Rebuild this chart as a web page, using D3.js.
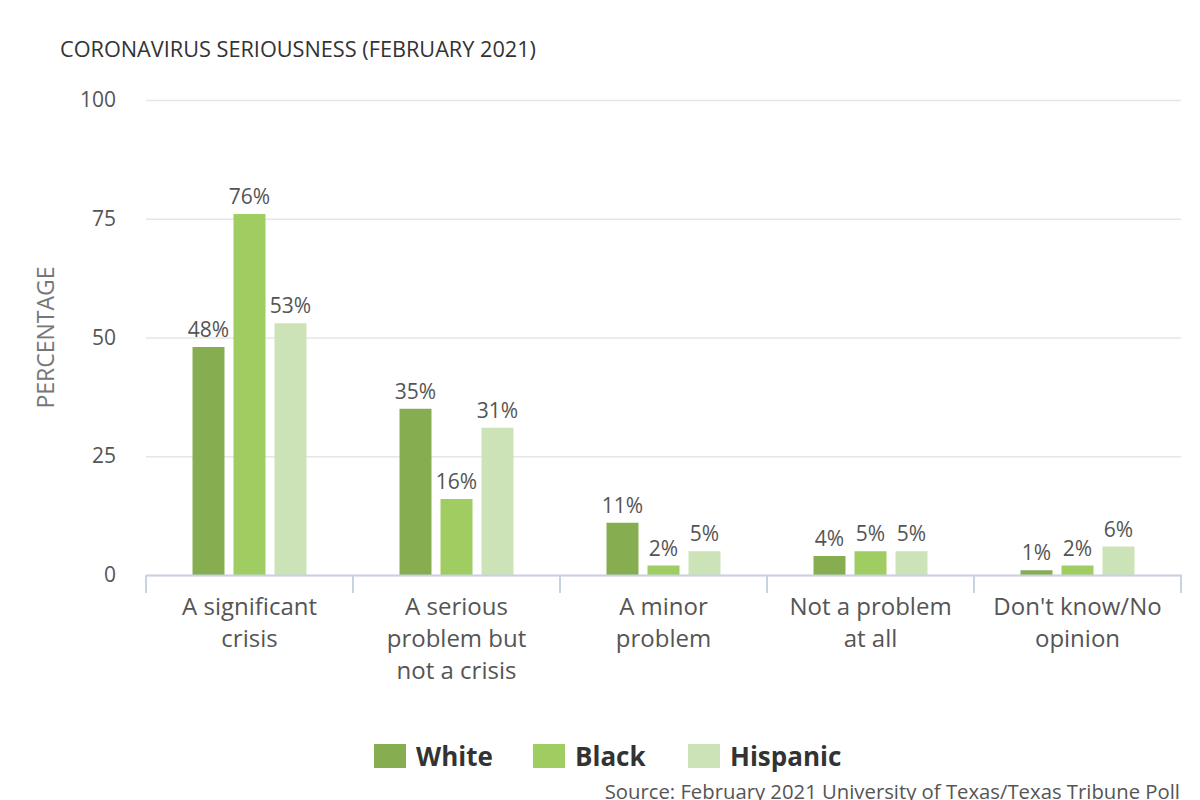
<!DOCTYPE html>
<html>
<head>
<meta charset="utf-8">
<script src="https://cdn.jsdelivr.net/npm/d3@7"></script>
<style>
  body { margin: 0; background: #fff; }
  svg { font-family: 'Open Sans', sans-serif; display: block; }
</style>
</head>
<body>
<div class="chart-container"></div>
<script>
var categories = ['A significant crisis', 'A serious problem but not a crisis', 'A minor problem', 'Not a problem at all', "Don't know/No opinion"];
var groups = ['White', 'Black', 'Hispanic'];
var white = [48, 35, 11, 4, 1];
var black = [76, 16, 2, 5, 2];
var hispanic = [53, 31, 5, 5, 6];
var yTicks = [0, 25, 50, 75, 100];
var colors = ['#87ad51', '#9fcd61', '#cce3b8'];

var totalWidth = 1200;
var totalHeight = 800;
var margin = { top: 100, right: 19, bottom: 225, left: 146 };
var width = totalWidth - margin.left - margin.right;
var height = totalHeight - margin.top - margin.bottom;

var series = [white, black, hispanic];
var rows = categories.map((c, i) => ({
  category: c,
  values: groups.map((g, j) => ({ group: g, value: series[j][i], color: colors[j] }))
}));

var svg = d3.select('.chart-container').append('svg')
  .attr('width', totalWidth)
  .attr('height', totalHeight);

var x0 = d3.scaleBand()
  .domain(categories)
  .range([0, width]);

var x1 = d3.scaleBand()
  .domain(groups)
  .range([46.5, x0.bandwidth() - 46.5])
  .paddingInner(0.22);

var y = d3.scaleLinear()
  .domain([0, 100])
  .range([height, 0]);

var chart = svg.append('g')
  .attr('transform', `translate(${margin.left}, ${margin.top})`);

// gridlines + y labels
var gY = chart.append('g')
  .call(d3.axisLeft(y).tickValues(yTicks).tickSize(-width).tickPadding(30));
gY.select('.domain').remove();
gY.selectAll('.tick line').attr('stroke', '#e6e6e6').attr('stroke-width', 1.5);
gY.selectAll('.tick text')
  .attr('fill', '#555')
  .style('font-size', '21px')
  .style('font-family', 'Open Sans, sans-serif');

// bars
var cat = chart.selectAll('.cat')
  .data(rows).enter()
  .append('g')
    .attr('class', 'cat')
    .attr('transform', d => `translate(${x0(d.category)}, 0)`);

cat.selectAll('rect')
  .data(d => d.values).enter()
  .append('rect')
    .attr('x', d => x1(d.group))
    .attr('y', d => y(d.value))
    .attr('width', x1.bandwidth())
    .attr('height', d => height - y(d.value))
    .attr('fill', d => d.color);

cat.selectAll('text.val')
  .data(d => d.values).enter()
  .append('text')
    .attr('class', 'val')
    .attr('x', d => x1(d.group) + x1.bandwidth() / 2)
    .attr('y', d => y(d.value) - 10)
    .attr('text-anchor', 'middle')
    .attr('fill', '#555')
    .style('font-size', '21px')
    .text(d => d.value + '%');

// x axis
var gX = chart.append('g')
  .attr('transform', `translate(0, ${height})`)
  .call(d3.axisBottom(x0).tickSize(0).tickPadding(0));
gX.select('.domain').attr('stroke', '#c8d2e2').attr('stroke-width', 2);
gX.selectAll('.tick text')
  .attr('fill', '#555')
  .style('font-size', '24px')
  .style('font-family', 'Open Sans, sans-serif')
  .attr('y', 0)
  .attr('dy', 0)
  .call(wrap, 180);

var bounds = categories.map(c => x0(c)).concat([width]);
chart.append('g').selectAll('line')
  .data(bounds).enter()
  .append('line')
    .attr('x1', d => d).attr('x2', d => d)
    .attr('y1', height).attr('y2', height + 18)
    .attr('stroke', '#c8d2e2')
    .attr('stroke-width', 2);

function wrap(texts, maxWidth) {
  texts.each(function () {
    var text = d3.select(this);
    var words = text.text().split(/\s+/);
    var line = [];
    var lineNo = 0;
    text.text(null);
    var tspan = text.append('tspan').attr('x', 0).attr('y', 40);
    words.forEach(w => {
      line.push(w);
      tspan.text(line.join(' '));
      if (tspan.node().getComputedTextLength() > maxWidth && line.length > 1) {
        line.pop();
        tspan.text(line.join(' '));
        line = [w];
        lineNo++;
        tspan = text.append('tspan').attr('x', 0).attr('y', 40 + lineNo * 32).text(w);
      }
    });
  });
}

// title
svg.append('text')
  .attr('x', 60)
  .attr('y', 57)
  .attr('fill', '#333')
  .style('font-size', '21.7px')
  .text('CORONAVIRUS SERIOUSNESS (FEBRUARY 2021)');

// y axis title
svg.append('text')
  .attr('transform', `translate(54, ${margin.top + height / 2}) rotate(-90)`)
  .attr('text-anchor', 'middle')
  .attr('fill', '#777')
  .style('font-size', '23px')
  .text('PERCENTAGE');

// legend
var legendX = [374, 533, 688];
var legend = svg.append('g').selectAll('g')
  .data(groups).enter()
  .append('g')
    .attr('transform', (d, i) => `translate(${legendX[i]}, 744)`);
legend.append('rect')
  .attr('width', 32)
  .attr('height', 24)
  .attr('fill', (d, i) => colors[i]);
legend.append('text')
  .attr('x', 42)
  .attr('y', 22)
  .attr('fill', '#333')
  .style('font-size', '26px')
  .style('font-weight', 'bold')
  .text(d => d);

// source
svg.append('text')
  .attr('x', 1180)
  .attr('y', 799)
  .attr('text-anchor', 'end')
  .attr('fill', '#555')
  .style('font-size', '20.3px')
  .text('Source: February 2021 University of Texas/Texas Tribune Poll');
</script>
</body>
</html>
